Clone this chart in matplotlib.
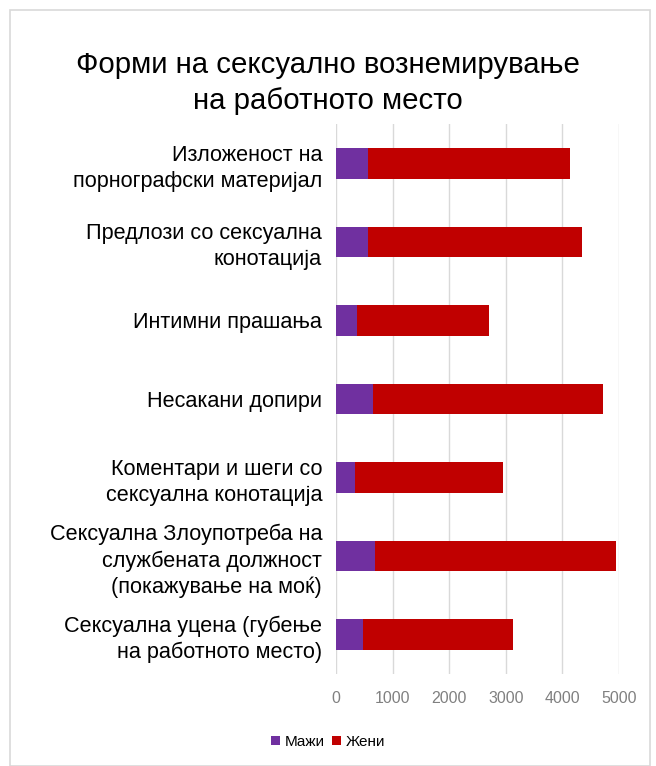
import matplotlib.pyplot as plt
from matplotlib.patches import Rectangle

# forms of harassment, top to bottom
categories = [
    "Изложеност на\nпорнографски материјал",
    "Предлози со сексуална\nконотација",
    "Интимни прашања",
    "Несакани допири",
    "Коментари и шеги со\nсексуална конотација",
    "Сексуална Злоупотреба на\nслужбената должност\n(покажување на моќ)",
    "Сексуална уцена (губење\nна работното место)",
]
men = [570, 565, 370, 650, 335, 690, 480]
women = [3560, 3780, 2330, 4070, 2615, 4260, 2650]

plt.rcParams['font.family'] = ['Liberation Sans', 'DejaVu Sans']

fig = plt.figure(figsize=(6.56, 7.66), dpi=100)
# light frame round the chart
fig.patches.append(Rectangle((10/656, 0), 640/656, 756/766, transform=fig.transFigure,
                             fill=False, edgecolor='#d9d9d9', linewidth=1.2))

ax = fig.add_axes([336/656, 1 - 674/766, 283/656, 550/766])
y = range(len(categories))
ax.barh(y, men, height=0.39, color='#7030a0', label='Мажи', zorder=3)
ax.barh(y, women, height=0.39, left=men, color='#c00000', label='Жени', zorder=3)

ax.set_xlim(0, 5000)
ax.set_ylim(len(categories) - 0.5, -0.5)
ax.set_xticks(range(0, 5001, 1000))
ax.set_yticks(list(y))
ax.set_yticklabels(categories, fontsize=15.6, linespacing=1.3)
ax.tick_params(axis='x', colors='#808080', labelsize=11.5, length=0, pad=12)
ax.tick_params(axis='y', length=0, pad=10)
ax.grid(axis='x', color='#d9d9d9', linewidth=1, zorder=0)
for s in ax.spines.values():
    s.set_visible(False)

fig.text(0.5, 1 - 83/766, "Форми на сексуално вознемирување\nна работното место",
         ha='center', va='center', fontsize=21.2, linespacing=1.32)

leg = fig.legend(loc='center', bbox_to_anchor=(0.5, 1 - 742/766), ncol=2, frameon=False,
                 fontsize=11, handlelength=0.6, handleheight=0.6, columnspacing=0.5,
                 handletextpad=0.3)

fig.savefig('out.png', dpi=100)
